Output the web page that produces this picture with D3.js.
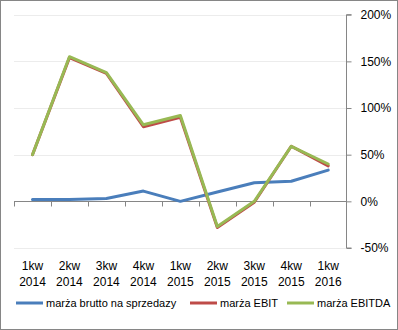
<!DOCTYPE html>
<html><head><meta charset="utf-8">
<script src="https://cdn.jsdelivr.net/npm/d3@7"></script>
<style>body{margin:0;background:#fff}svg{display:block}</style>
</head><body>
<script>
const categories = [["1kw","2014"],["2kw","2014"],["3kw","2014"],["4kw","2014"],["1kw","2015"],["2kw","2015"],["3kw","2015"],["4kw","2015"],["1kw","2016"]];
const brutto = [2, 2, 3, 11, 0, 10, 20, 21.5, 33.5];
const ebit = [50, 154, 137, 80, 90, -28, -1, 59, 38];
const ebitda = [50, 155, 138, 82, 92, -27, 0, 59, 40];
const yTicks = [-50, 0, 50, 100, 150, 200];
const seriesNames = ["marża brutto na sprzedazy", "marża EBIT", "marża EBITDA"];
const colors = ["#4A7EBB", "#BE4B48", "#98B954"];

const W = 398, H = 330;
const svg = d3.select("body").append("svg").attr("width", W).attr("height", H);
svg.append("rect").attr("x",0.5).attr("y",0.5).attr("width",W-1).attr("height",H-1)
  .attr("fill","#fff").attr("stroke","#868686");

const x = d3.scaleBand().domain(d3.range(categories.length)).range([14, 346.7]).padding(0);
const y = d3.scaleLinear().domain([-50, 200]).range([248, 14.7]);
const font = "'Liberation Sans', Arial, sans-serif";

// gridlines
svg.append("g").selectAll("line").data(yTicks.filter(d=>d!==0)).join("line")
  .attr("x1", 14).attr("x2", 346.7)
  .attr("y1", d=>Math.round(y(d))+0.5).attr("y2", d=>Math.round(y(d))+0.5)
  .attr("stroke", "#ececec").attr("stroke-width", 1);

// right axis
const yAxis = d3.axisRight(y).tickValues(yTicks).tickFormat(d=>d+"%").tickSize(5).tickPadding(9);
const gy = svg.append("g").attr("transform", `translate(${Math.round(346.7)-0.5},0)`).call(yAxis);
gy.select(".domain").attr("stroke","#868686").attr("d", `M5,${y(200)}H0V${y(-50)}H5`);
gy.selectAll(".tick line").attr("stroke","#868686");
gy.selectAll(".tick text").attr("fill","#000").style("font-family",font).style("font-size","12px");

// x axis at 0
const zeroY = Math.round(y(0))+0.5;
const gx = svg.append("g");
gx.append("line").attr("x1",14).attr("x2",346.7).attr("y1",zeroY).attr("y2",zeroY).attr("stroke","#868686");
gx.selectAll("line.tk").data(d3.range(categories.length)).join("line").attr("class","tk")
  .attr("x1", d=>Math.round(x(d))+0.5).attr("x2", d=>Math.round(x(d))+0.5)
  .attr("y1", zeroY).attr("y2", zeroY+5).attr("stroke","#868686");

// x labels
const lab = svg.append("g").selectAll("text").data(categories).join("text")
  .attr("text-anchor","middle").attr("fill","#000")
  .style("font-family",font).style("font-size","12px");
lab.append("tspan").attr("x",(d,i)=>x(i)+x.bandwidth()/2).attr("y",270).text(d=>d[0]);
lab.append("tspan").attr("x",(d,i)=>x(i)+x.bandwidth()/2).attr("y",286).text(d=>d[1]);

// lines
const line = d3.line().x((d,i)=>x(i)+x.bandwidth()/2).y(d=>y(d));
[[brutto,3],[ebit,3],[ebitda,3]].forEach(([data,w],k)=>{
  svg.append("path").attr("d", line(data)).attr("fill","none")
    .attr("stroke", colors[k]).attr("stroke-width", w)
    .attr("stroke-linejoin","round").attr("stroke-linecap","round");
});

// legend
const legendX = [16, 190, 287];
const lg = svg.append("g");
seriesNames.forEach((n,i)=>{
  lg.append("line").attr("x1",legendX[i]).attr("x2",legendX[i]+27).attr("y1",303).attr("y2",303)
    .attr("stroke",colors[i]).attr("stroke-width",3);
  lg.append("text").attr("x",legendX[i]+30).attr("y",307).text(n).attr("fill","#000")
    .style("font-family",font).style("font-size","11px");
});
</script>
</body></html>
